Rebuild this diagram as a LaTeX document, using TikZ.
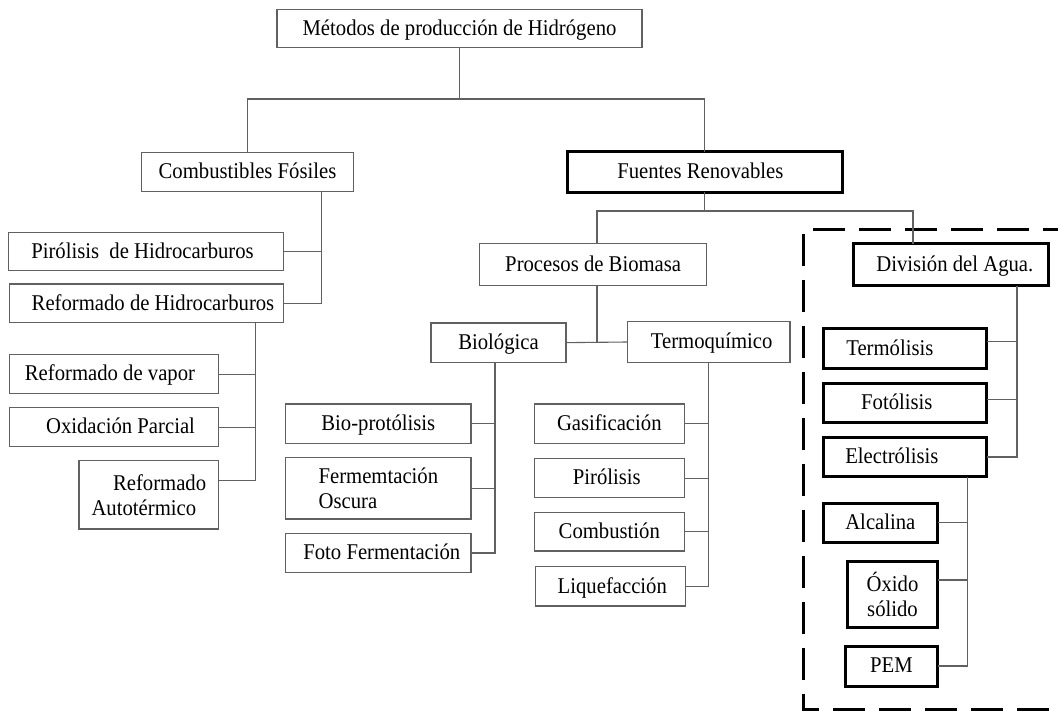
\documentclass[tikz,border=0pt]{standalone}
\usepackage{fontspec}
\setmainfont{Liberation Serif}[FakeStretch=0.92]
\begin{document}
\begin{tikzpicture}[x=1pt,y=-1pt,
  every node/.style={font=\fontsize{22.5}{25}\selectfont},
  box/.style={draw=black!62, line width=1.3pt, fill=white, inner sep=0pt, outer sep=0pt},
  boldbox/.style={box, draw=black, line width=3pt},
  oneline/.style={text height=17pt, text depth=3.5pt},
  link/.style={draw=black!62, line width=1.1pt},
  frame/.style={draw=black, line width=3pt, dash pattern=on 32pt off 14pt}]
\useasboundingbox (0,0) rectangle (1058,711);

% dashed frame around the water-splitting branch
\draw[frame] (1075,229.7) -- (803,229.7) -- (803,709.5) -- (1075,709.5);

% helper coordinates for bars and trunks
\coordinate (bar1) at (0,99);
\coordinate (bar2) at (0,211);
\coordinate (cfx) at (321.3,0);
\coordinate (rhx) at (255.7,0);
\coordinate (pbx) at (597,0);
\coordinate (dvx) at (913,0);
\coordinate (bix) at (495,0);
\coordinate (tqx) at (708.7,0);
\coordinate (dax) at (1017,0);
\coordinate (elx) at (967.7,0);

% boxes
\node[box, oneline, minimum width=365pt, minimum height=38.4pt] (met) at (459.5,28.5) {Métodos de producción de Hidrógeno};
\node[box, oneline, minimum width=211.6pt, minimum height=38.6pt] (comb) at (247.5,172) {Combustibles Fósiles};
\node[boldbox, oneline, minimum width=274.3pt, minimum height=40.6pt] (fuen) at (704.85,172) {Fuentes Renovables\hspace*{9pt}};

\node[box, oneline, minimum width=275.4pt, minimum height=38pt] (pir1) at (146,251.7) {Pirólisis\ \ de Hidrocarburos\hspace*{7pt}};
\node[box, oneline, minimum width=274.4pt, minimum height=38.7pt] (ref1) at (146.5,303.35) {\hspace*{13pt}Reformado de Hidrocarburos};
\node[box, oneline, minimum width=209.4pt, minimum height=39pt] (vap) at (114,374.2) {Reformado de vapor\hspace*{8pt}};
\node[box, oneline, minimum width=209.4pt, minimum height=39pt] (oxi) at (114,427.2) {\hspace*{13pt}Oxidación Parcial};
\node[box, minimum width=139.7pt, minimum height=68.3pt, align=right] (auto) at (148.85,494.85) {Reformado\\Autotérmico\hspace*{10pt}};

\node[box, oneline, minimum width=227pt, minimum height=42pt] (proc) at (593.2,264.7) {Procesos de Biomasa};
\node[box, oneline, minimum width=135pt, minimum height=39.3pt] (bio) at (498.5,342.65) {Biológica};
\node[box, oneline, minimum width=162.7pt, minimum height=40.6pt] (termo) at (708.65,342) {\hspace*{6pt}Termoquímico};

\node[box, oneline, minimum width=185.3pt, minimum height=39.3pt] (bprot) at (378.35,423.65) {Bio-protólisis};
\node[box, minimum width=185.3pt, minimum height=61.7pt, align=left] (ferm) at (378.35,488.15) {Fermemtación\\Oscura};
\node[box, oneline, minimum width=185.3pt, minimum height=39.4pt] (foto) at (378.35,553) {\hspace*{7pt}Foto Fermentación};

\node[box, oneline, minimum width=150pt, minimum height=39.3pt] (gas) at (609.3,423.65) {Gasificación};
\node[box, oneline, minimum width=150pt, minimum height=39pt] (pir2) at (609.3,478.2) {Pirólisis\hspace*{5pt}};
\node[box, oneline, minimum width=150pt, minimum height=38.7pt] (combu) at (609.3,531.65) {Combustión};
\node[box, oneline, minimum width=150pt, minimum height=39.3pt] (liq) at (610.3,586.35) {\hspace*{4pt}Liquefacción};

\node[boldbox, oneline, minimum width=195.7pt, minimum height=41.7pt] (div) at (950.85,264.85) {\hspace*{8pt}División del Agua.};
\node[boldbox, oneline, minimum width=163.7pt, minimum height=39.7pt] (termol) at (904.85,348.85) {Termólisis\hspace*{30pt}};
\node[boldbox, oneline, minimum width=163.7pt, minimum height=38.3pt] (fotol) at (904.85,403.15) {Fotólisis\hspace*{16pt}};
\node[boldbox, oneline, minimum width=163.7pt, minimum height=39.4pt] (elec) at (904.85,457) {Electrólisis\hspace*{26pt}};
\node[boldbox, oneline, minimum width=114.7pt, minimum height=39.7pt] (alc) at (880.35,522.85) {Alcalina};
\node[boldbox, minimum width=90.4pt, minimum height=65.6pt, align=center] (oxs) at (892.5,594.5) {Óxido\\sólido};
\node[boldbox, oneline, minimum width=92.4pt, minimum height=40pt] (pem) at (891.5,666) {PEM};

% first level
\draw[link] (met.south) -- (met.south |- bar1);
\draw[link] (comb.north) |- (fuen.north |- bar1) -- (fuen.north);

% fossil fuels
\draw[link] (comb.south -| cfx) |- (ref1.east);
\draw[link] (pir1.east) -- (pir1.east -| cfx);
\draw[link] (ref1.south -| rhx) |- ([yshift=14.5pt]auto.east);
\draw[link] (vap.east) -- (vap.east -| rhx);
\draw[link] (oxi.east) -- (oxi.east -| rhx);

% renewables
\draw[link] (fuen.south) -- (fuen.south |- bar2);
\draw[link] (proc.north -| pbx) |- (dvx |- bar2) -- (div.north -| dvx);
\draw[link] (proc.south -| pbx) -- (pbx |- bio.east);
\draw[link] (bio.east) -- (termo.west);

% biological routes
\draw[link] (bio.south -| bix) |- (foto.east);
\draw[link] (bprot.east) -- (bprot.east -| bix);
\draw[link] (ferm.east) -- (ferm.east -| bix);

% thermochemical routes
\draw[link] (termo.south -| tqx) |- (liq.east);
\draw[link] (gas.east) -- (gas.east -| tqx);
\draw[link] (pir2.east) -- (pir2.east -| tqx);
\draw[link] (combu.east) -- (combu.east -| tqx);

% water splitting
\draw[link] (div.south -| dax) |- (elec.east);
\draw[link] ([yshift=7.6pt]termol.east) -- ([yshift=7.6pt]termol.east -| dax);
\draw[link] ([yshift=3.9pt]fotol.east) -- ([yshift=3.9pt]fotol.east -| dax);

% electrolysis types
\draw[link] (elec.south -| elx) |- (pem.east);
\draw[link] (alc.east) -- (alc.east -| elx);
\draw[link] ([yshift=14.5pt]oxs.east) -- ([yshift=14.5pt]oxs.east -| elx);
\end{tikzpicture}
\end{document}
